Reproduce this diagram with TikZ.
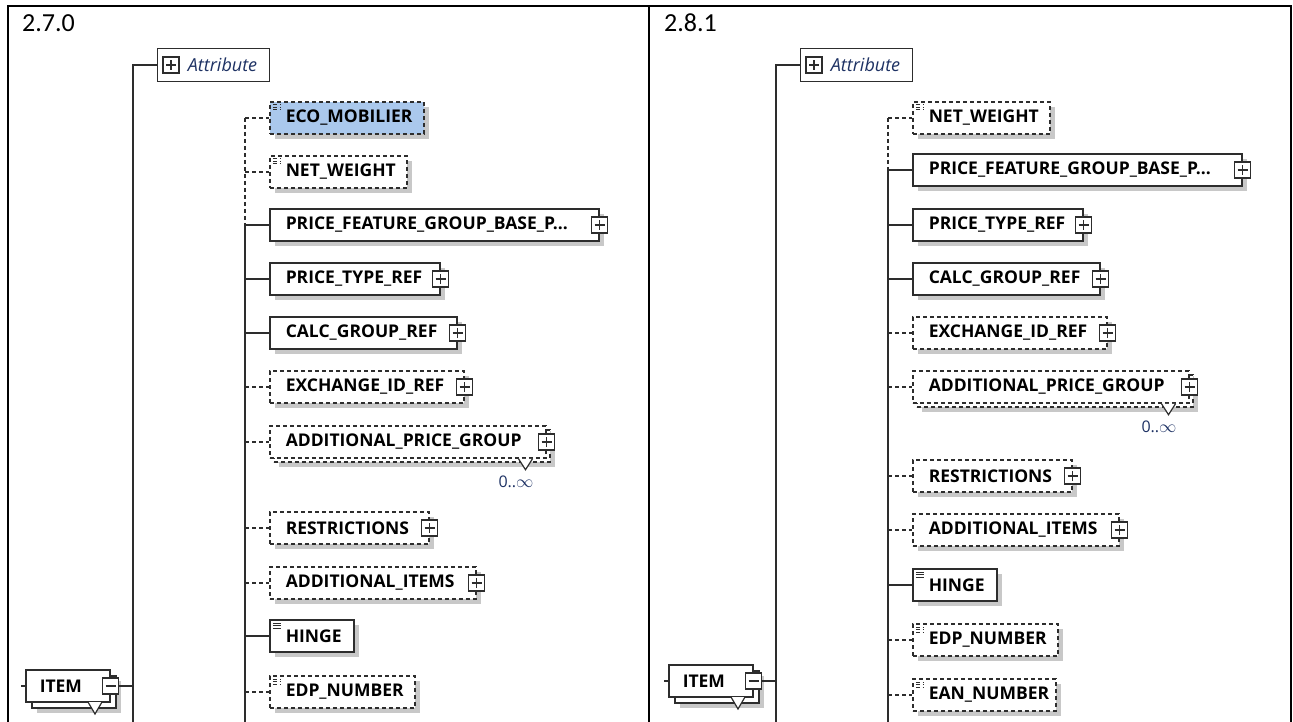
\documentclass[tikz,border=0pt]{standalone}
\usepackage{fontspec}
\setmainfont{Open Sans}
\newfontfamily\verfont{Carlito}
\usepackage{tikz}
\usetikzlibrary{shadows}

\definecolor{xsdline}{RGB}{45,45,45}
\definecolor{xsdshade}{RGB}{200,200,200}
\definecolor{xsdsel}{RGB}{170,200,236}
\definecolor{xsdnavy}{RGB}{30,50,100}
\newcommand{\cutdots}{...}

\tikzset{
  conn/.style={draw=xsdline, line width=1.5pt},
  optconn/.style={conn, dash pattern=on 4pt off 3pt},
  elem/.style={draw=xsdline, fill=white, line width=1.5pt, anchor=west,
    text width=#1, inner xsep=16pt, inner ysep=0pt, minimum height=32pt,
    align=left, font=\bfseries\fontsize{17.5}{19}\selectfont,
    drop shadow={shadow xshift=5pt, shadow yshift=-5pt, opacity=1, fill=xsdshade}},
  opt/.style={dash pattern=on 4pt off 3pt},
  doc/.style={path picture={
    \foreach \d in {3,5.5,8}
      \draw[line width=1pt] ([xshift=3pt,yshift=-\d pt]path picture bounding box.north west) -- ++(8pt,0pt);}},
  req/.style={},
  reqdoc/.style={doc},
  optdoc/.style={opt, doc},
  selopt/.style={opt, doc, fill=xsdsel},
  multiopt/.style={opt,
    drop shadow={shadow xshift=9pt, shadow yshift=-9pt, opacity=1, fill=xsdshade},
    copy shadow={shadow xshift=4pt, shadow yshift=-4pt, draw=xsdline, fill=white}},
  multireq/.style={
    drop shadow={shadow xshift=11pt, shadow yshift=-11pt, opacity=1, fill=xsdshade},
    copy shadow={shadow xshift=6pt, shadow yshift=-6pt, draw=xsdline, fill=white}},
  plusbox/.style={draw=xsdline, fill=white, line width=1.3pt, minimum size=16pt, inner sep=0pt,
    path picture={\draw[line width=1.1pt]
      ([xshift=-5pt]path picture bounding box.center) -- ([xshift=5pt]path picture bounding box.center)
      ([yshift=-5pt]path picture bounding box.center) -- ([yshift=5pt]path picture bounding box.center);}},
  minusbox/.style={draw=xsdline, fill=white, line width=1.3pt, minimum size=16pt, inner sep=0pt,
    path picture={\draw[line width=1.1pt]
      ([xshift=-5pt]path picture bounding box.center) -- ([xshift=5pt]path picture bounding box.center);}},
  attrbox/.style={draw=xsdline, fill=white, line width=1.3pt, anchor=west,
    minimum height=33pt, text width=87pt, inner xsep=12.5pt, align=right,
    font=\itshape\fontsize{18}{20}\selectfont, text=xsdnavy},
  chev/.style={draw=xsdline, fill=white, line width=1.2pt, line join=miter},
  card/.style={font=\fontsize{16}{18}\selectfont, text=xsdnavy},
  ver/.style={font=\verfont\fontsize{26}{30}\selectfont, anchor=base west, inner sep=0pt}
}

\begin{document}
\begin{tikzpicture}[x=1pt,y=-1pt]
  \useasboundingbox (0,0) rectangle (1293,722);
  % ---- jadval ----
  \draw[line width=2pt] (8,722) -- (8,6) -- (1291,6) -- (1291,722);
  \draw[line width=2pt] (649,6) -- (649,722);

  % ==== 2.7.0 ====
  \node[ver] (L-ver) at (22,32) {2.7.0};
  \node[attrbox] (L-attr) at (157,65) {Attribute};
  \node[plusbox] (L-attr-x) at ([xshift=14pt]L-attr.west) {};
  \coordinate (L-trunk) at (133,65);
  \coordinate (L-trunk-end) at (133,722);
  \coordinate (L-bus) at (245,118);
  \coordinate (L-bus-end) at (245,722);
  \draw[conn] (L-attr.west) -- (L-trunk) -- (L-trunk-end);
  % ---- elementlar ----
  \foreach \id/\y/\tw/\kind/\cs/\px/\txt in {
      eco/118/122pt/selopt/optconn/0/ECO\_MOBILIER,
      netw/172/105pt/optdoc/optconn/0/NET\_WEIGHT,
      pfgb/225/297pt/req/conn/1/PRICE\_FEATURE\_GROUP\_BASE\_P\cutdots,
      ptr/279/138pt/req/conn/1/PRICE\_TYPE\_REF,
      calc/333/155pt/req/conn/1/CALC\_GROUP\_REF,
      exch/387/162pt/opt/optconn/1/EXCHANGE\_ID\_REF,
      apg/442/244pt/multiopt/optconn/1/ADDITIONAL\_PRICE\_GROUP,
      restr/528/127pt/opt/optconn/1/RESTRICTIONS,
      addit/583/174pt/opt/optconn/1/ADDITIONAL\_ITEMS,
      hinge/636/52pt/reqdoc/conn/0/HINGE,
      edp/692/113pt/optdoc/optconn/0/EDP\_NUMBER}{
    \node[elem=\tw,\kind] (L-\id) at (269,\y) {\txt};
    \draw[\cs] (L-bus |- L-\id.west) -- (L-\id.west);
    \ifnum\px=1 \node[plusbox] (L-\id-x) at (L-\id.east) {};\fi
  }
  \draw[optconn] (L-bus) -- (L-bus |- L-pfgb.west);
  \draw[conn] (L-bus |- L-pfgb.west) -- (L-bus-end);
  \filldraw[chev] ([xshift=-28pt]L-apg.south east) -- ++(7,11) -- ++(7,-11);
  \node[card] (L-apg-card) at (516,482) {0..$\infty$};
  % ---- ITEM ----
  \node[elem=56pt, inner xsep=14pt, multireq] (L-item) at (25,686) {ITEM};
  \node[minusbox] (L-item-x) at (L-item.east) {};
  \filldraw[chev] (88,702) -- (95,714) -- (102,702);
  \coordinate (L-in) at (21,686);
  \draw[conn] (L-in) -- (L-item.west);
  \draw[conn] (L-item-x.east) -- (L-trunk |- L-item-x.east);

  % ==== 2.8.1 ====
  \begin{scope}[xshift=643pt]
  \node[ver] (R-ver) at (21,32) {2.8.1};
  \node[attrbox] (R-attr) at (157,65) {Attribute};
  \node[plusbox] (R-attr-x) at ([xshift=14pt]R-attr.west) {};
  \coordinate (R-trunk) at (133,65);
  \coordinate (R-trunk-end) at (133,722);
  \coordinate (R-bus) at (245,118);
  \coordinate (R-bus-end) at (245,722);
  \draw[conn] (R-attr.west) -- (R-trunk) -- (R-trunk-end);
  % ---- elementlar ----
  \foreach \id/\y/\tw/\kind/\cs/\px/\txt in {
      netw/118/105pt/optdoc/optconn/0/NET\_WEIGHT,
      pfgb/170/297pt/req/conn/1/PRICE\_FEATURE\_GROUP\_BASE\_P\cutdots,
      ptr/225/138pt/req/conn/1/PRICE\_TYPE\_REF,
      calc/279/155pt/req/conn/1/CALC\_GROUP\_REF,
      exch/333/162pt/opt/optconn/1/EXCHANGE\_ID\_REF,
      apg/387/244pt/multiopt/optconn/1/ADDITIONAL\_PRICE\_GROUP,
      restr/476/127pt/opt/optconn/1/RESTRICTIONS,
      addit/530/174pt/opt/optconn/1/ADDITIONAL\_ITEMS,
      hinge/585/52pt/reqdoc/conn/0/HINGE,
      edp/640/113pt/optdoc/optconn/0/EDP\_NUMBER,
      ean/695/111pt/optdoc/optconn/0/EAN\_NUMBER}{
    \node[elem=\tw,\kind] (R-\id) at (269,\y) {\txt};
    \draw[\cs] (R-bus |- R-\id.west) -- (R-\id.west);
    \ifnum\px=1 \node[plusbox] (R-\id-x) at (R-\id.east) {};\fi
  }
  \draw[optconn] (R-bus) -- (R-bus |- R-pfgb.west);
  \draw[conn] (R-bus |- R-pfgb.west) -- (R-bus-end);
  \filldraw[chev] ([xshift=-28pt]R-apg.south east) -- ++(7,11) -- ++(7,-11);
  \node[card] (R-apg-card) at (516,427) {0..$\infty$};
  % ---- ITEM ----
  \node[elem=56pt, inner xsep=14pt, multireq] (R-item) at (25,681) {ITEM};
  \node[minusbox] (R-item-x) at (R-item.east) {};
  \filldraw[chev] (88,697) -- (95,709) -- (102,697);
  \coordinate (R-in) at (21,681);
  \draw[conn] (R-in) -- (R-item.west);
  \draw[conn] (R-item-x.east) -- (R-trunk |- R-item-x.east);
  \end{scope}
\end{tikzpicture}
\end{document}
